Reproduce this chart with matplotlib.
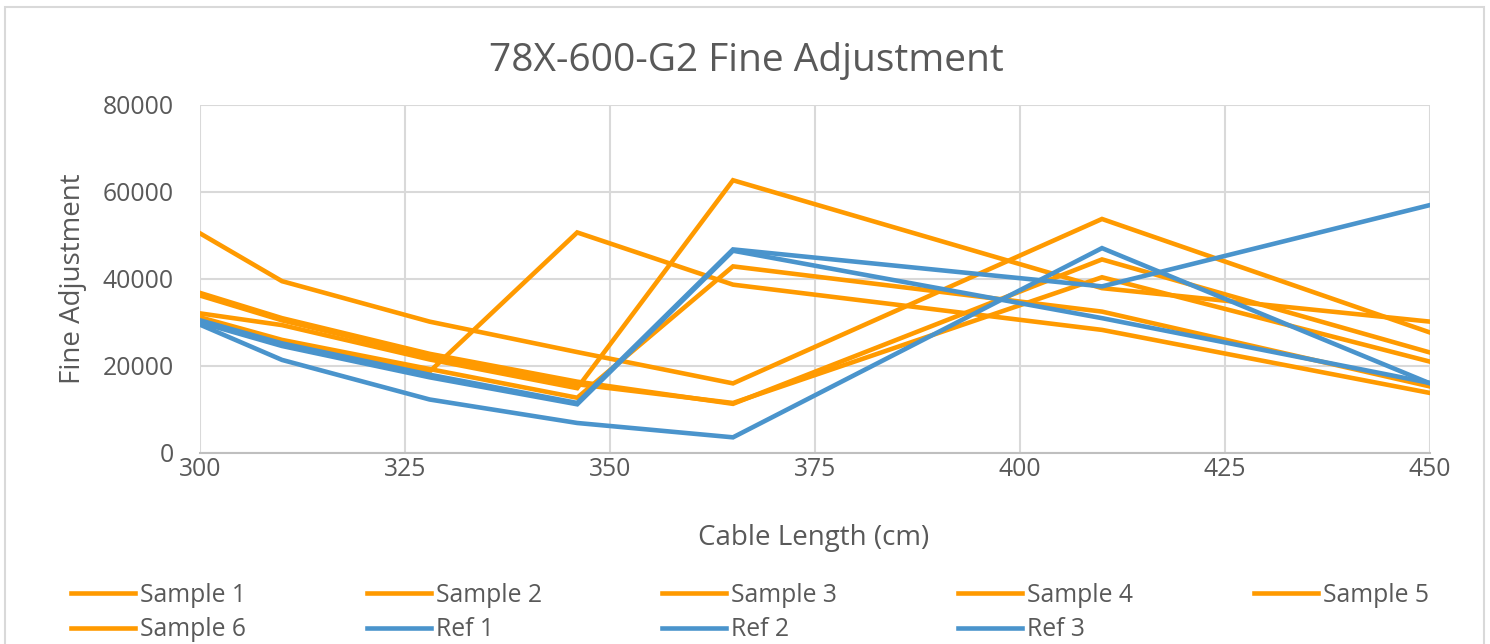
import matplotlib
matplotlib.use("Agg")
import matplotlib.pyplot as plt

plt.rcParams['font.family'] = ['Open Sans', 'DejaVu Sans']

cable_length = [300, 310, 328, 346, 365, 410, 450]

sample_1 = [50500, 39500, 30200, 23200, 16000, 53800, 27700]
sample_2 = [36800, 31000, 22800, 16400, 11300, 44500, 23100]
sample_3 = [36200, 30500, 22300, 15800, 11500, 40400, 21000]
sample_4 = [32100, 29400, 21500, 14900, 62700, 37900, 30200]
sample_5 = [31200, 26000, 19300, 12700, 42900, 32500, 15300]
sample_6 = [30500, 25200, 18700, 50700, 38700, 28300, 13800]
ref_1 = [29500, 21400, 12300, 6900, 3600, 47100, 16000]
ref_2 = [30500, 25200, 18000, 11500, 46800, 38300, 57000]
ref_3 = [30000, 24600, 17400, 11200, 46500, 31000, 16100]

series_names = ["Sample 1", "Sample 2", "Sample 3", "Sample 4", "Sample 5",
                "Sample 6", "Ref 1", "Ref 2", "Ref 3"]
series_values = [sample_1, sample_2, sample_3, sample_4, sample_5, sample_6,
                 ref_1, ref_2, ref_3]

x_ticks = [300, 325, 350, 375, 400, 425, 450]
y_ticks = [0, 20000, 40000, 60000, 80000]

ORANGE = "#FF9A00"
BLUE = "#4A94CC"
TEXT = "#595959"
GRID = "#D9D9D9"

W, H = 1490, 644
fig = plt.figure(figsize=(W / 100, H / 100), dpi=100)
ax = fig.add_axes([200 / W, 1 - 453 / H, 1230 / W, 348 / H])

handles = []
for name, vals in zip(series_names, series_values):
    color = BLUE if name.startswith("Ref") else ORANGE
    ln, = ax.plot(cable_length, vals, color=color, lw=3.3, label=name,
                  solid_joinstyle='miter', zorder=3)
    handles.append(ln)

ax.set_xlim(300, 450)
ax.set_ylim(0, 80000)
ax.set_xticks(x_ticks)
ax.set_yticks(y_ticks)
ax.set_xticklabels([str(v) for v in x_ticks])
ax.set_yticklabels([str(v) for v in y_ticks])
ax.grid(True, color=GRID, lw=1.5, zorder=0)
ax.set_axisbelow(True)
for side in ['top', 'right', 'left']:
    ax.spines[side].set_visible(False)
ax.spines['bottom'].set_color('#BFBFBF')
ax.spines['bottom'].set_linewidth(1.5)
ax.tick_params(axis='both', length=0, labelsize=17.8, labelcolor=TEXT)
ax.tick_params(axis='x', pad=3.2)
ax.tick_params(axis='y', pad=19)

fig.text(814 / W, 1 - 538 / H, "Cable Length (cm)", ha='center', va='center',
         fontsize=20, color=TEXT)
fig.text(73 / W, 1 - 278.5 / H, "Fine Adjustment", ha='center', va='center',
         rotation=90, fontsize=20, color=TEXT)

fig.text(746 / W, 1 - 61 / H, "78X-600-G2 Fine Adjustment", ha='center',
         va='center', fontsize=28, color=TEXT)

# chart border
border = plt.Rectangle((5 / W, -0.01), (1484 - 5) / W, 1 - 7 / H + 0.01,
                       transform=fig.transFigure, fill=False, edgecolor=GRID,
                       lw=1.5)
fig.add_artist(border)

# legend: 5 columns, filled row-wise, placed at evenly spaced columns
col_x = [71, 367, 662, 958, 1254]
ncol = 5
for c in range(ncol):
    idx = [i for i in (c, c + ncol) if i < len(handles)]
    leg = fig.legend([handles[i] for i in idx], [series_names[i] for i in idx],
                     loc='upper left', bbox_to_anchor=(col_x[c] / W, 1 - 583 / H),
                     ncol=1, frameon=False, fontsize=17.8, handlelength=2.6,
                     handletextpad=0.2, labelspacing=0.38,
                     borderpad=0, borderaxespad=0)
    for t in leg.get_texts():
        t.set_color(TEXT)

fig.savefig("out.png", dpi=100)
